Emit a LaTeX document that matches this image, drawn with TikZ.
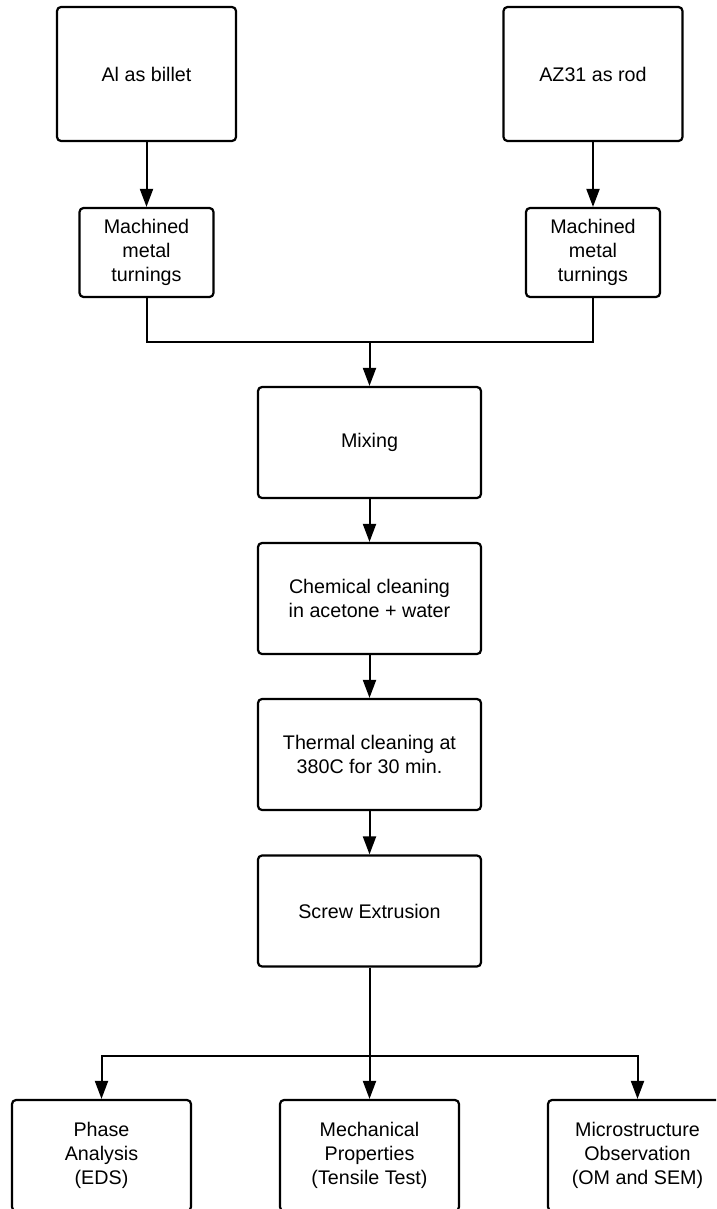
\documentclass[tikz,border=0pt]{standalone}
\usepackage{fontspec}
\setmainfont{Liberation Sans}
\usepackage{tikz}
\usetikzlibrary{arrows.meta}
\tikzset{
  stepbox/.style={draw, line width=2.2pt, rounded corners=4pt, align=center, inner sep=0pt,
    font=\fontsize{19.7}{24}\selectfont},
  bigbox/.style={stepbox, minimum width=179pt, minimum height=134pt},
  smallbox/.style={stepbox, minimum width=134pt, minimum height=89pt},
  procbox/.style={stepbox, minimum width=223pt, minimum height=111pt},
  testbox/.style={stepbox, minimum width=179pt, minimum height=111pt},
  flow/.style={line width=2pt, -{Triangle[length=18pt, width=13pt]}},
  link/.style={line width=2pt}
}

\begin{document}
\begin{tikzpicture}[x=1pt, y=-1pt]
        \path[use as bounding box, clip] (0,0) rectangle (716,1209);
        % raw material
        \node[bigbox] (al) at (146.5,74) {Al as billet};
        \node[bigbox] (az) at (593,74) {AZ31 as rod};
        \node[smallbox] (turnAl) at (146.5,252.5) {Machined\\metal\\turnings};
        \node[smallbox] (turnAz) at (593,252.5) {Machined\\metal\\turnings};
        % processing
        \node[procbox] (mix) at (369.5,442.5) {Mixing};
        \node[procbox] (chem) at (369.5,598.5) {Chemical cleaning\\in acetone + water};
        \node[procbox] (therm) at (369.5,754.5) {Thermal cleaning at\\380C for 30 min.};
        \node[procbox] (screw) at (369.5,911) {Screw Extrusion};
        % characterisation
        \node[testbox] (phase) at (101.5,1155.5) {Phase\\Analysis\\(EDS)};
        \node[testbox] (mech) at (369.5,1155.5) {Mechanical\\Properties\\(Tensile Test)};
        \node[testbox] (micro) at (637.5,1155.5) {Microstructure\\Observation\\(OM and SEM)};
        \coordinate (join) at (369.5,342);
        \coordinate (split) at (369.5,1056);

        \draw[flow] (al) -- (turnAl);
        \draw[flow] (az) -- (turnAz);
        \draw[link] (turnAl.south) |- (join) -| (turnAz.south);
        \draw[flow] (join) -- (mix);
        \draw[flow] (mix) -- (chem);
        \draw[flow] (chem) -- (therm);
        \draw[flow] (therm) -- (screw);
        \draw[link] (screw) -- (split);
        \draw[flow] (split) -| (phase.north);
        \draw[flow] (split) -- (mech);
        \draw[flow] (split) -| (micro.north);
    \end{tikzpicture}
\end{document}
